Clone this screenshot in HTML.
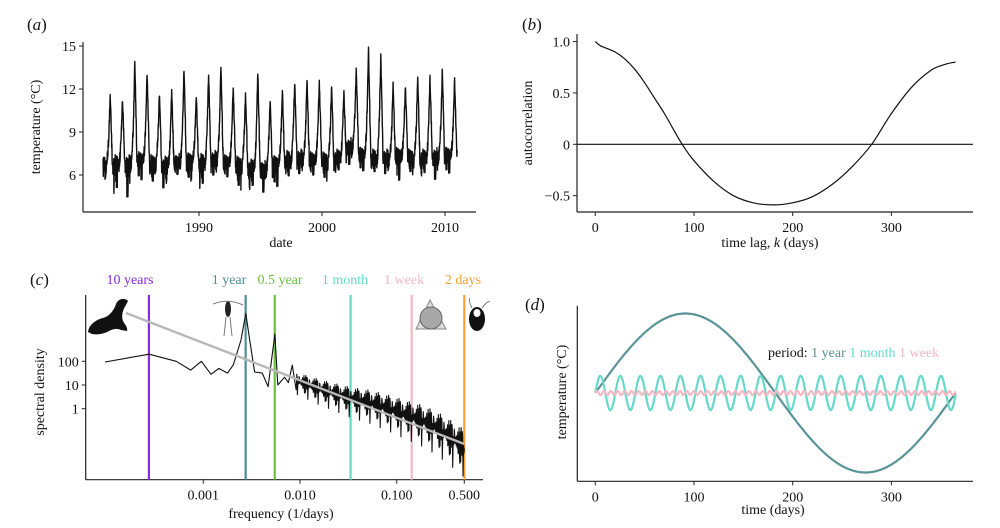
<!DOCTYPE html>
<html><head><meta charset="utf-8"><style>
html,body{margin:0;padding:0;background:#fff;}
svg{display:block;font-family:"Liberation Serif",serif;}
text{fill:#111;}
</style></head><body>
<svg id="fig" width="1000" height="528" viewBox="0 0 1000 528">
<g id="pa"></g>
<g id="pb"></g>
<g id="pc"></g>
<g id="pd"></g>
</svg>
<script>
// ---- Panel a data ----
const aYears = [1982,1983,1984,1985,1986,1987,1988,1989,1990,1991,1992,1993,1994,1995,1996,1997,1998,1999,2000,2001,2002,2003,2004,2005,2006,2007,2008,2009,2010];
const aPeaks = [11.6,11.3,13.9,13.2,11.7,11.9,13.5,11.5,13.1,13.6,12.2,11.6,13.2,11.3,11.9,12.5,12.6,12.6,12.2,11.8,13.4,14.8,14.3,12.3,12.3,12.8,12.8,13.3,12.7];
const aLows  = [5.5,4.3,4.0,5.4,5.0,4.8,5.9,5.3,4.7,5.8,5.7,4.6,4.7,4.5,4.9,5.4,5.9,5.8,5.3,6.0,6.5,6.1,5.8,5.9,5.3,5.8,5.7,5.4,5.9];
const aBase  = [6.6,6.6,6.6,6.9,6.6,6.5,6.7,6.8,6.7,6.9,6.7,6.5,6.3,6.2,6.6,6.9,7.0,6.9,6.8,7.0,7.8,7.2,7.0,7.0,7.2,7.0,7.0,7.1,7.2];
const aTicksX = [1990,2000,2010];
const aTicksY = [6,9,12,15];
const aJitter = [0.3,-0.6,0.5,-0.2,0.8,-0.9,0.1,0.6,-0.4,0.9,-0.7,0.2,-0.3,0.7,-0.8,0.4,-0.1,0.6,-0.5,0.3,-0.9,0.5,0.2,-0.6,0.8,-0.3,0.4,-0.7,0.1,0.5,-0.4,0.7];

// ---- Panel b data ----
const bLag = [0,5,10,20,30,40,50,60,70,80,88,100,120,140,160,180,200,220,240,260,280,300,320,340,355,365];
const bAcf = [1.0,0.96,0.94,0.9,0.83,0.73,0.6,0.45,0.3,0.13,0,-0.16,-0.36,-0.5,-0.57,-0.59,-0.57,-0.51,-0.39,-0.22,0,0.3,0.55,0.72,0.78,0.8];
const bTicksX = [0,100,200,300];
const bTicksY = [-0.5,0,0.5,1.0];
const bTickLabelsY = ["\u22120.5","0","0.5","1.0"];

// ---- Panel c data ----
const cLogF = [-4.017,-3.56,-3.28,-3.13,-3.02,-2.92,-2.84,-2.75,-2.69,-2.61,-2.56,-2.52,-2.47,-2.39,-2.33,-2.26,-2.23,-2.16,-2.12,-2.08,-2.04];
const cLogD = [1.97,2.3,2.0,1.63,2.0,1.45,1.7,1.5,1.85,2.9,4.02,2.9,1.55,1.5,0.93,3.15,1.0,1.33,1.1,1.84,0.8];
const cTrendF = [-2.04,-1.8,-1.6,-1.48,-1.3,-1.1,-0.9,-0.75,-0.6,-0.45,-0.301];
const cTrendD = [1.2,0.85,0.6,0.45,0.3,0.05,-0.25,-0.45,-0.75,-1.15,-1.6];
const cNoise = [0.25,-0.3,0.1,-0.55,0.35,-0.1,0.2,-0.4,0.45,-0.2,0.05,-0.7,0.3,-0.15,0.4,-0.35,0.15,-0.25,0.5,-0.45,0.0,0.3,-0.6,0.2,-0.05,0.35,-0.3,0.1,-0.9,0.25,-0.2,0.4];
const cFitF = [-3.8,-0.301];
const cFitD = [4.04,-1.49];
const cPeriods = [3650,365,182.5,30,7,2];
const cPeriodLabels = ["10 years","1 year","0.5 year","1 month","1 week","2 days"];
const cLabelCenters = [130,229,280,345,404,463];
const cPeriodColors = ["#8a2be2","#4e8e93","#6cbf45","#62d8c8","#f4b8c4","#f5a030"];
const cTicksX = [0.001,0.01,0.1,0.5];
const cTickLabelsX = ["0.001","0.010","0.100","0.500"];
const cTicksY = [1,10,100];

// ---- Panel d data ----
const dPeriods = [365,20.3,7];
const dAmps = [1,0.215,0.025];
const dColors = ["#5a9496","#66d9cb","#f4b8c4"];
const dLabels = ["1 year","1 month","1 week"];
const dTicksX = [0,100,200,300];

const NS="http://www.w3.org/2000/svg";
const FS=14;
function mk(parent,tag,attrs,txt){const e=document.createElementNS(NS,tag);for(const k in attrs)e.setAttribute(k,attrs[k]);if(txt!==undefined)e.textContent=txt;parent.appendChild(e);return e;}
function spines(g,x0,y0,x1,y1){
  const l=mk(g,'line',{x1:x0,y1:y0,x2:x0,y2:y1,stroke:'#222','stroke-width':1.2});
  
  
  const b=mk(g,'line',{x1:x0,y1:y1,x2:x1,y2:y1,stroke:'#222','stroke-width':1.2});
  
  
}
function xtick(g,x,y,lab){
  mk(g,'line',{x1:x,y1:y,x2:x,y2:y+4,stroke:'#222','stroke-width':1});
  const t=mk(g,'text',{x:x,y:y+20,'text-anchor':'middle','font-size':FS},lab);
  
  
}
function ytick(g,x,y,lab){
  mk(g,'line',{x1:x,y1:y,x2:x-4,y2:y,stroke:'#222','stroke-width':1});
  const t=mk(g,'text',{x:x-7,y:y+5,'text-anchor':'end','font-size':FS},lab);
  
  
}
function label(g,x,y,txt,name,rot,italic){
  const a={x:x,y:y,'text-anchor':'middle','font-size':FS};
  if(rot)a.transform='rotate(-90 '+x+' '+y+')';
  const t=mk(g,'text',a);
  
  
  if(italic){t.innerHTML=txt;}else t.textContent=txt;
  return t;
}
function plabel(g,x,y,l){
  const t=mk(g,'text',{x:x,y:y,'font-size':17});
  t.innerHTML='(<tspan font-style="italic">'+l+'</tspan>)';
  
  
}

// ===== Panel a =====
(function(){
  const g=document.getElementById('pa');
  const X=v=>199+(v-1990)*12.3, Y=v=>175-(v-6)*14.33;
  spines(g,83,42,476,212);
  aTicksX.forEach(v=>xtick(g,X(v),212,String(v)));
  aTicksY.forEach(v=>ytick(g,83,Y(v),String(v)));
  plabel(g,27,30,'a');
  label(g,281,247,'date','x-axis-title');
  label(g,40,127,'temperature (°C)','y-axis-title',true);
  let d='';const N=64;let first=true;
  aYears.forEach((yr,i)=>{
    for(let k=0;k<N;k++){
      const p=k/N, t=yr+p;
      if(t<1982.2||t>2011.0)continue;
      const base=aBase[i], pk=aPeaks[i], lo=aLows[i];
      let s=0;
      if(p>=0.42&&p<0.78)s=Math.pow((p-0.42)/0.36,2.2);
      else if(p>=0.78&&p<0.97)s=1-(p-0.78)/0.19;
      let v=base+(pk-base)*s;
      const j=aJitter[(k*3+i*5)%aJitter.length];
      if(p>0.05&&p<0.42)v+=j*(j<0?(base-lo)/1.1:0.9);
      else v+=j*0.6*(1-0.6*s);
      d+=(first?'M':'L')+X(t).toFixed(1)+','+Y(v).toFixed(1);first=false;
    }
  });
  const pth=mk(g,'path',{d:d,fill:'none',stroke:'#111','stroke-width':1.4,'stroke-linejoin':'round'});
  
  
})();

// ===== Panel b =====
(function(){
  const g=document.getElementById('pb');
  const X=v=>595.3+v*0.987, Y=v=>144.3-v*102.7;
  spines(g,577,34,973,212);
  bTicksX.forEach(v=>xtick(g,X(v),212,String(v)));
  bTicksY.forEach((v,i)=>ytick(g,577,Y(v),bTickLabelsY[i]));
  plabel(g,522,30,'b');
  label(g,770,247,'time lag, <tspan font-style="italic">k</tspan> (days)','x-axis-title',false,true);
  label(g,532,123,'autocorrelation','y-axis-title',true);
  const z=mk(g,'line',{x1:577,y1:Y(0),x2:973,y2:Y(0),stroke:'#111','stroke-width':1.2});
  
  
  const pts=bLag.map((k,i)=>[X(k),Y(bAcf[i])]);
  let d='M'+pts[0][0]+','+pts[0][1];
  for(let i=0;i<pts.length-1;i++){
    const p0=pts[Math.max(0,i-1)],p1=pts[i],p2=pts[i+1],p3=pts[Math.min(pts.length-1,i+2)];
    d+='C'+(p1[0]+(p2[0]-p0[0])/6).toFixed(1)+','+(p1[1]+(p2[1]-p0[1])/6).toFixed(1)+' '+(p2[0]-(p3[0]-p1[0])/6).toFixed(1)+','+(p2[1]-(p3[1]-p1[1])/6).toFixed(1)+' '+p2[0].toFixed(1)+','+p2[1].toFixed(1);
  }
  const pth=mk(g,'path',{d:d,fill:'none',stroke:'#111','stroke-width':1.2});
  
  
})();

// ===== Panel c =====
(function(){
  const g=document.getElementById('pc');
  const XL=lf=>300+(lf+2)*96.7, YL=ld=>408.7-ld*23.7;
  spines(g,85.7,295,483,479.7);
  cTicksX.forEach((v,i)=>xtick(g,XL(Math.log10(v)),479.7,cTickLabelsX[i]));
  cTicksY.forEach(v=>ytick(g,85.7,YL(Math.log10(v)),String(v)));
  plabel(g,30,285,'c');
  label(g,281,518,'frequency (1/days)','x-axis-title');
  label(g,44,392,'spectral density','y-axis-title',true);
  cPeriods.forEach((p,i)=>{
    const x=XL(Math.log10(1/p));
    const l=mk(g,'line',{x1:x,y1:295,x2:x,y2:479.7,stroke:cPeriodColors[i],'stroke-width':2.2});
    
    
    const t=mk(g,'text',{x:cLabelCenters[i],y:284,'text-anchor':'middle','font-size':FS,style:'fill:'+cPeriodColors[i]},cPeriodLabels[i]);
    
    
  });
  let d='';
  cLogF.forEach((f,i)=>{d+=(i?'L':'M')+XL(f).toFixed(1)+','+YL(cLogD[i]).toFixed(1);});
  const f0=cTrendF[0],f1=cTrendF[cTrendF.length-1];
  const n=520;
  for(let k=1;k<=n;k++){
    const f=f0+(f1-f0)*k/n;
    let j=0;while(j<cTrendF.length-2&&cTrendF[j+1]<f)j++;
    const t=(f-cTrendF[j])/(cTrendF[j+1]-cTrendF[j]);
    let v=cTrendD[j]+t*(cTrendD[j+1]-cTrendD[j]);
    const amp=0.5+0.6*(f-f0)/(f1-f0);
    v+=cNoise[(k*7)%cNoise.length]*amp*(k%2?1:1.3);
    d+='L'+XL(f).toFixed(1)+','+YL(v).toFixed(1);
  }
  const sp=mk(g,'path',{d:d,fill:'none',stroke:'#111','stroke-width':1.1,'stroke-linejoin':'round'});
  
  
  const fit=mk(g,'line',{x1:XL(cFitF[0]),y1:YL(cFitD[0]),x2:XL(cFitF[1]),y2:YL(cFitD[1]),stroke:'#b8b8b8','stroke-width':2.4});
  
  
  const seal=mk(g,'path',{d:'M88,332 C89,325 95,320 103,318 C110,316 114,310 116,304 C118,299 124,297 128,301 L126,305 C123,309 121,316 123,321 C125,325 128,327 127,331 L121,330 C117,328 113,329 109,331 C104,334 97,335 92,334 Z',fill:'#111'});
  
  
  const cope=mk(g,'g',{});
  
  
  mk(cope,'ellipse',{cx:228,cy:309,rx:3,ry:8,fill:'#222'});
  mk(cope,'path',{d:'M213,304 Q228,298 243,305 M226,317 L224,336 M230,317 L232,336',fill:'none',stroke:'#777','stroke-width':1});
  const dia=mk(g,'g',{});
  
  
  mk(dia,'path',{d:'M430,300 L446,329 L416,329 Z',fill:'#ddd',stroke:'#888','stroke-width':1});
  mk(dia,'circle',{cx:431,cy:318,r:11,fill:'#a8a8a8',stroke:'#666','stroke-width':1});
  const cil=mk(g,'g',{});
  
  
  mk(cil,'ellipse',{cx:477,cy:319,rx:8,ry:12,fill:'#111'});
  mk(cil,'ellipse',{cx:477,cy:313,rx:3.5,ry:4,fill:'#fff'});
  mk(cil,'path',{d:'M472,308 Q468,300 470,298 M482,308 Q488,300 490,302',fill:'none',stroke:'#666','stroke-width':0.8});
})();

// ===== Panel d =====
(function(){
  const g=document.getElementById('pd');
  const X=v=>595.3+v*0.987, Y=v=>393-v*79.5;
  spines(g,577.3,305.7,973,481.3);
  dTicksX.forEach(v=>xtick(g,X(v),481.3,String(v)));
  plabel(g,525,310,'d');
  label(g,773,514,'time (days)','x-axis-title');
  label(g,566,392,'temperature (°C)','y-axis-title',true);
  [0,1,2].forEach(i=>{
    let d='';
    for(let t=0;t<=365;t+=0.5){
      const v=dAmps[i]*Math.sin(2*Math.PI*t/dPeriods[i]);
      d+=(t?'L':'M')+X(t).toFixed(1)+','+Y(v).toFixed(1);
    }
    const p=mk(g,'path',{d:d,fill:'none',stroke:dColors[i],'stroke-width':2.2});
    
    
  });
  const lg=mk(g,'text',{x:768,y:357,'font-size':FS});
  
  
  mk(lg,'tspan',{},'period: ');
  dLabels.forEach((l,i)=>{mk(lg,'tspan',{style:'fill:'+dColors[i]},l+(i<2?' ':''));});
})();
</script>
</body></html>
